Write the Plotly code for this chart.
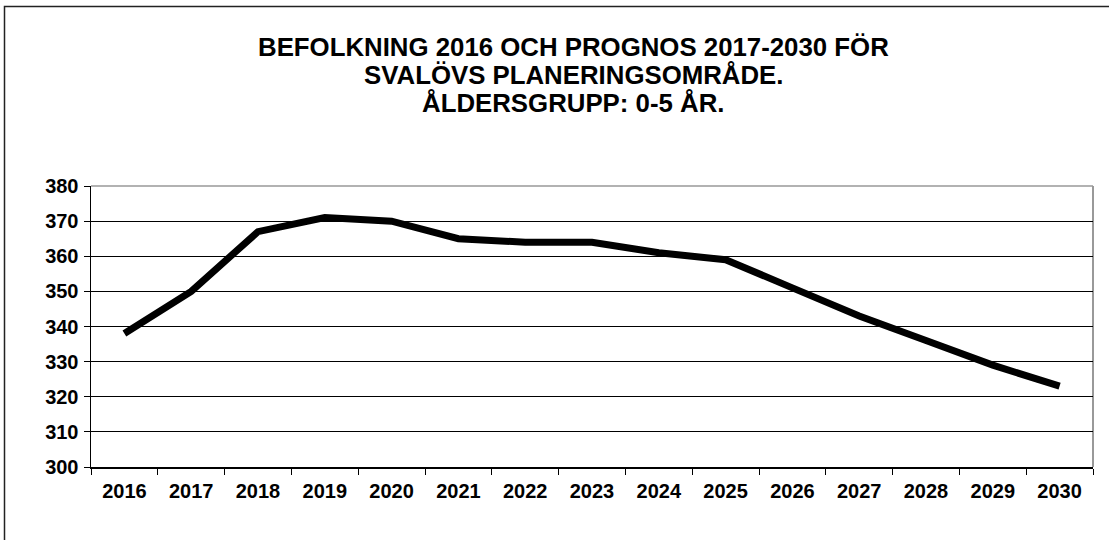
import plotly.graph_objects as go

years = ["2016", "2017", "2018", "2019", "2020", "2021", "2022", "2023",
         "2024", "2025", "2026", "2027", "2028", "2029", "2030"]
population = [338, 350, 367, 371, 370, 365, 364, 364, 361, 359, 351, 343, 336, 329, 323]
y_ticks = [300, 310, 320, 330, 340, 350, 360, 370, 380]
title_lines = ["BEFOLKNING 2016 OCH PROGNOS 2017-2030 FÖR",
               "SVALÖVS PLANERINGSOMRÅDE.",
               "ÅLDERSGRUPP: 0-5 ÅR."]

W, H = 1109, 540
L, R, T, B = 91, 16, 186, 73
pw, ph = W - L - R, H - T - B

def px_x(x):
    return (x - L) / pw

def px_y(y):
    return (H - B - y) / ph

font_family = "Liberation Sans, Arial, sans-serif"

fig = go.Figure()
fig.add_trace(go.Scatter(
    x=years, y=population, mode="lines",
    line=dict(color="black", width=7),
    hoverinfo="skip", showlegend=False,
))

title_y = [47, 75, 103]
annotations = [
    dict(text=line, xref="paper", yref="paper",
         x=px_x(573), y=px_y(yy), xanchor="center", yanchor="middle",
         showarrow=False,
         font=dict(family=font_family, size=25.8, color="black", weight="bold"))
    for line, yy in zip(title_lines, title_y)
]

fig.update_layout(
    width=W, height=H,
    margin=dict(l=L, r=R, t=T, b=B, autoexpand=False),
    paper_bgcolor="white", plot_bgcolor="white",
    annotations=annotations,
    xaxis=dict(
        type="category", categoryorder="array", categoryarray=years,
        range=[-0.5, len(years) - 0.5],
        showgrid=False, zeroline=False,
        showline=True, linecolor="black", linewidth=1.5,
        ticks="outside", tickson="boundaries", ticklen=6, tickcolor="black", tickwidth=1,
        tickfont=dict(family=font_family, size=20, color="black", weight="bold"),
        ticklabelstandoff=5,
    ),
    yaxis=dict(
        range=[300, 380], tickvals=y_ticks,
        showgrid=True, gridcolor="black", gridwidth=1,
        zeroline=False,
        showline=True, linecolor="black", linewidth=1.5,
        ticks="outside", ticklen=6, tickcolor="black", tickwidth=1,
        tickfont=dict(family=font_family, size=20, color="black", weight="bold"),
        ticklabelstandoff=1,
    ),
    shapes=[
        dict(type="rect", xref="paper", yref="paper",
             x0=px_x(4.5), x1=px_x(1116), y0=px_y(546), y1=px_y(6.5),
             line=dict(color="#222222", width=1.5), layer="below"),
        dict(type="line", xref="paper", yref="paper",
             x0=1, x1=1, y0=0, y1=1,
             line=dict(color="#999999", width=2), layer="below"),
        dict(type="line", xref="paper", yref="paper",
             x0=0, x1=1, y0=1, y1=1,
             line=dict(color="#999999", width=1.5), layer="below"),
    ],
)

fig.write_html("out.html",
               config={"displayModeBar": False, "staticPlot": True},
               post_script="document.body.style.margin='0';document.body.style.overflow='hidden';")
